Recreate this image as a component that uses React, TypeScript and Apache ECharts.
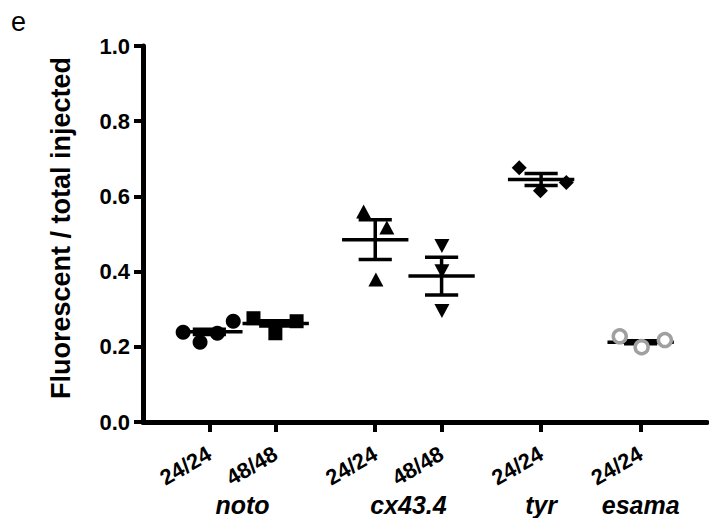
import React, { useEffect, useRef } from "react";
import * as echarts from "echarts";

const tickLabels = ["24/24", "48/48", "24/24", "48/48", "24/24", "24/24"];
const tickPositions = [2, 4, 7, 9, 12, 15];
const groupNames = ["noto", "cx43.4", "tyr", "esama"];
const groupPositions = [3, 8, 12, 15];

const noto24 = [[1.21, 0.239], [1.72, 0.212], [2.24, 0.236], [2.72, 0.268]];
const noto48 = [[3.33, 0.276], [3.99, 0.236], [4.63, 0.268]];
const cx24 = [[6.65, 0.56], [7.35, 0.517], [7.02, 0.379]];
const cx48 = [[9.01, 0.468], [9.01, 0.401], [9.01, 0.295]];
const tyr24 = [[11.34, 0.676], [11.98, 0.615], [12.76, 0.637]];
const esama24 = [[14.37, 0.228], [15.03, 0.199], [15.73, 0.218]];

const groupMeans = [0.240, 0.262, 0.485, 0.388, 0.645, 0.212];
const groupSems = [0.007, 0.007, 0.053, 0.05, 0.016, 0.004];

const FONT = "'Liberation Sans', Arial, Helvetica, sans-serif";

export default function App() {
  const ref = useRef<HTMLDivElement>(null);
  useEffect(() => {
    if (!ref.current) return;
    const chart = echarts.init(ref.current, null, { renderer: "svg" });
    const errData = tickPositions.map((p, i) => [p, groupMeans[i], groupSems[i]]);
    const black = { color: "#000", opacity: 1 };
    const option: any = {
      animation: false,
      backgroundColor: "#ffffff",
      grid: {
        left: 143,
        right: 2,
        top: 46,
        bottom: 96,
        containLabel: false,
        outerBoundsMode: "none",
      },
      xAxis: [
        {
          type: "value",
          min: 0,
          max: 17,
          splitLine: { show: false },
          axisLine: { show: true, lineStyle: { color: "#000", width: 5 } },
          axisTick: {
            show: true,
            customValues: tickPositions,
            length: 10,
            lineStyle: { color: "#000", width: 4 },
          },
          axisLabel: {
            customValues: tickPositions,
            rotate: 30,
            margin: 30,
            color: "#000",
            fontFamily: FONT,
            fontWeight: "bold",
            fontSize: 22,
            formatter: (v: number) => {
              const i = tickPositions.indexOf(v);
              return i >= 0 ? tickLabels[i] : "";
            },
          },
        },
        {
          type: "value",
          min: 0,
          max: 17,
          position: "bottom",
          splitLine: { show: false },
          axisLine: { show: false },
          axisTick: { show: false },
          axisLabel: {
            customValues: groupPositions,
            margin: 70,
            lineHeight: 25,
            color: "#000",
            fontFamily: FONT,
            fontWeight: "bold",
            fontStyle: "italic",
            fontSize: 25,
            formatter: (v: number) => {
              const i = groupPositions.indexOf(v);
              return i >= 0 ? groupNames[i] : "";
            },
          },
        },
      ],
      yAxis: {
        type: "value",
        min: 0,
        max: 1,
        interval: 0.2,
        splitLine: { show: false },
        axisLine: { show: true, lineStyle: { color: "#000", width: 5 } },
        axisTick: { show: true, length: 9, lineStyle: { color: "#000", width: 4 } },
        axisLabel: {
          margin: 13,
          color: "#000",
          fontFamily: FONT,
          fontWeight: "bold",
          fontSize: 22,
          formatter: (v: number) => v.toFixed(1),
        },
      },
      graphic: [
        {
          type: "text",
          x: 61,
          y: 228,
          rotation: Math.PI / 2,
          style: {
            text: "Fluorescent / total injected",
            fontFamily: FONT,
            fontWeight: "bold",
            fontSize: 27,
            fill: "#000",
            textAlign: "center",
            textVerticalAlign: "middle",
          },
        },
        {
          type: "text",
          x: 11,
          y: 22,
          style: {
            text: "e",
            fontFamily: FONT,
            fontSize: 27,
            fill: "#000",
            textAlign: "left",
            textVerticalAlign: "middle",
          },
        },
      ],
      series: [
        { type: "scatter", data: noto24, symbol: "circle", symbolSize: 15, itemStyle: black, z: 2 },
        { type: "scatter", data: noto48, symbol: "rect", symbolSize: 14, itemStyle: black, z: 2 },
        { type: "scatter", data: cx24, symbol: "triangle", symbolSize: [15, 14], itemStyle: black, z: 2 },
        { type: "scatter", data: cx48, symbol: "triangle", symbolRotate: 180, symbolSize: [15, 14], itemStyle: black, z: 2 },
        { type: "scatter", data: tyr24, symbol: "diamond", symbolSize: [15, 15], itemStyle: black, z: 2 },
        {
          type: "custom",
          data: errData,
          z: 3,
          renderItem: (params: any, api: any) => {
            const x = api.value(0);
            const m = api.value(1);
            const s = api.value(2);
            const l = api.coord([x - 1, m]);
            const r = api.coord([x + 1, m]);
            const tl = api.coord([x - 0.5, m + s]);
            const tr = api.coord([x + 0.5, m + s]);
            const bl = api.coord([x - 0.5, m - s]);
            const br = api.coord([x + 0.5, m - s]);
            const st = { stroke: "#000", lineWidth: 3.5 };
            return {
              type: "group",
              children: [
                { type: "line", shape: { x1: l[0], y1: l[1], x2: r[0], y2: r[1] }, style: st },
                { type: "line", shape: { x1: tl[0], y1: tl[1], x2: tr[0], y2: tr[1] }, style: st },
                { type: "line", shape: { x1: bl[0], y1: bl[1], x2: br[0], y2: br[1] }, style: st },
                { type: "line", shape: { x1: (tl[0] + tr[0]) / 2, y1: tl[1], x2: (bl[0] + br[0]) / 2, y2: bl[1] }, style: st },
              ],
            };
          },
        },
        {
          type: "scatter",
          data: esama24,
          symbol: "circle",
          symbolSize: 13,
          itemStyle: { color: "#ffffff", borderColor: "#a0a0a0", borderWidth: 3.5, opacity: 1 },
          z: 4,
        },
      ],
    };
    chart.setOption(option);
    return () => chart.dispose();
  }, []);
  return (
    <div
      ref={ref}
      style={{ position: "fixed", left: 0, top: 0, width: 709, height: 518, background: "#fff" }}
    />
  );
}
